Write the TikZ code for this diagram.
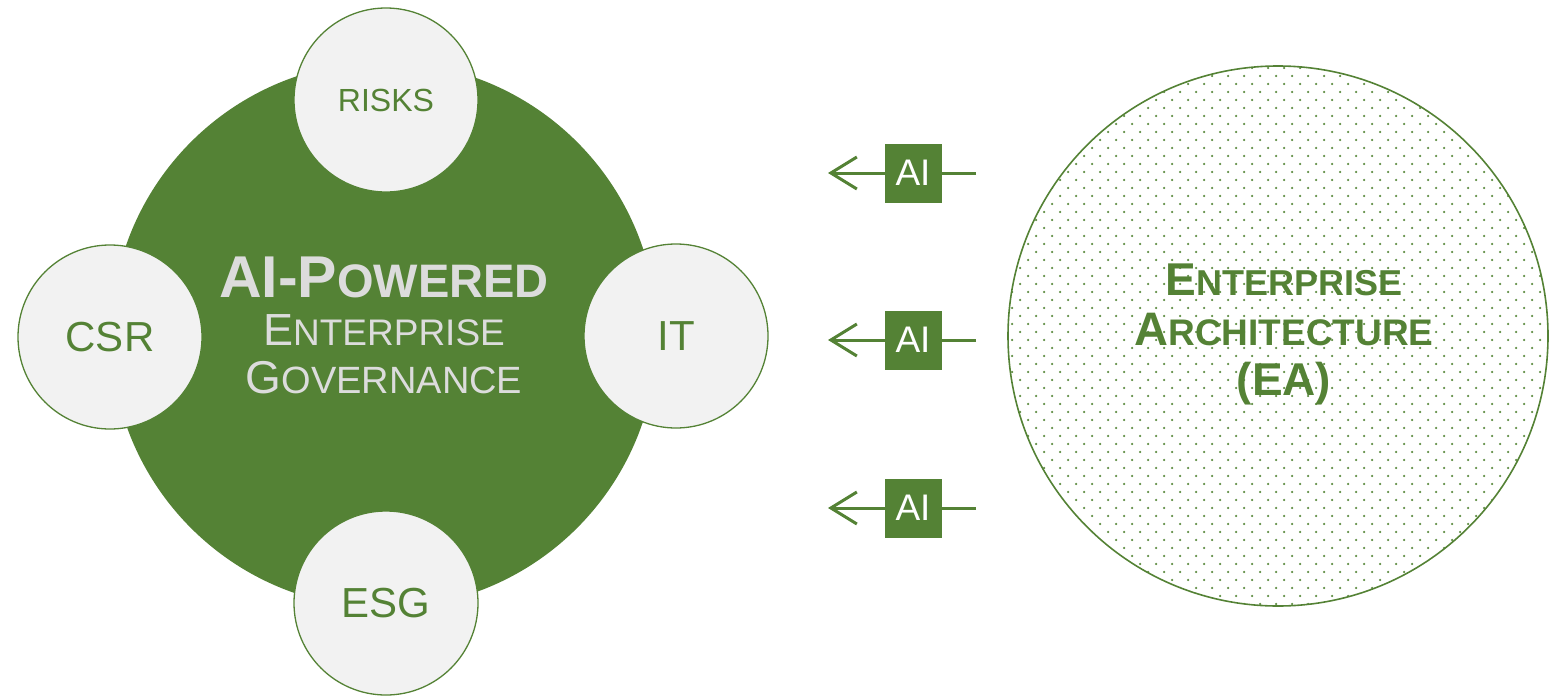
\documentclass[tikz,border=0pt]{standalone}
\usepackage{fontspec}
\setmainfont{Liberation Sans}
\usetikzlibrary{arrows.meta,patterns}
\definecolor{eagreen}{HTML}{548235}
\definecolor{satfill}{HTML}{F2F2F2}
\definecolor{govtext}{HTML}{DCDCDC}
\definecolor{dotgreen}{HTML}{5E8C42}
\pgfdeclarepatternformonly{stagdots}{\pgfqpoint{-1pt}{-1pt}}{\pgfqpoint{17pt}{17pt}}{\pgfqpoint{16pt}{16pt}}{%
  \pgfpathcircle{\pgfqpoint{4pt}{4pt}}{1.25pt}%
  \pgfpathcircle{\pgfqpoint{12pt}{12pt}}{1.25pt}%
  \pgfusepath{fill}}
\newcommand\fsz[2]{{\fontsize{#1}{48}\selectfont #2}}
\begin{document}
\begin{tikzpicture}[x=1pt,y=-1pt,
  govcircle/.style={circle, fill=eagreen, minimum size=546pt, inner sep=0pt},
  satellite/.style={circle, fill=satfill, draw=eagreen, line width=1.3pt,
    minimum size=184pt, inner sep=0pt, text=eagreen, font=\fontsize{42}{48}\selectfont},
  eacircle/.style={circle, draw=eagreen, line width=1.6pt, pattern=stagdots,
    pattern color=dotgreen, minimum size=540pt, inner sep=0pt},
  govlabel/.style={align=center, text=govtext, inner sep=0pt, font=\fontsize{56}{48}\selectfont},
  ealabel/.style={align=center, text=eagreen, inner sep=0pt, font=\bfseries\fontsize{46}{50}\selectfont},
  arr/.style={draw=eagreen, line width=3pt, -{Straight Barb[length=26pt,width=32pt]}},
  aibox/.style={fill=eagreen, minimum width=57pt, minimum height=59pt, inner sep=0pt,
    text=white, font=\fontsize{37}{37}\selectfont}
]
\useasboundingbox (0,0) rectangle (1552,696);

% governance circle
\node[govcircle] (gov) at (384,335) {};
\node[satellite] (risks) at (386,100) {\fontsize{32}{36}\selectfont RISKS};
\node[satellite] (esg) at (386,603) {ESG};
\node[satellite] (csr) at (110,337) {CSR};
\node[satellite] (it) at (676,336) {IT};
\node[govlabel] (govtxt) at (384,325)
  {\fsz{59}{\bfseries AI-P}\fsz{47}{\bfseries OWERED}\\
   \fsz{45}{E}\fsz{37}{NTERPRISE}\\
   \fsz{46}{G}\fsz{38}{OVERNANCE}};

% enterprise architecture circle
\node[eacircle] (ea) at (1278,336) {};
\node[ealabel] (eatxt) at (1284,334)
  {\fsz{46}{E}\fsz{36}{NTERPRISE}\\
   \fsz{47}{A}\fsz{37}{RCHITECTURE}\\
   \fsz{46}{(EA)}};

% AI arrows
\coordinate (s1) at (976,173); \coordinate (e1) at (828,173);
\coordinate (s2) at (976,340); \coordinate (e2) at (828,340);
\coordinate (s3) at (976,508); \coordinate (e3) at (828,508);
\draw[arr] (s1) -- (e1);
\draw[arr] (s2) -- (e2);
\draw[arr] (s3) -- (e3);
\node[aibox] (ai1) at (913,173) {AI};
\node[aibox] (ai2) at (913,340) {AI};
\node[aibox] (ai3) at (913,508) {AI};
\end{tikzpicture}
\end{document}
